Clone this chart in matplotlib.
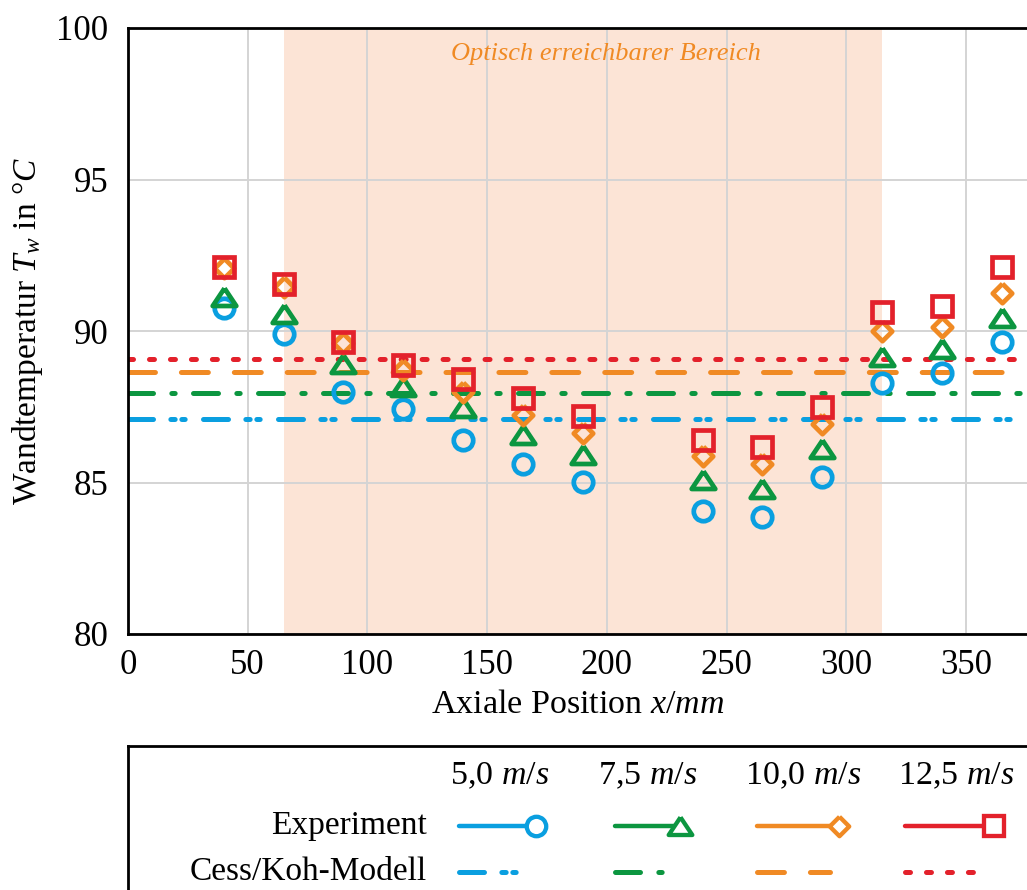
import numpy as np
import matplotlib
matplotlib.use('Agg')
import matplotlib.pyplot as plt

plt.rcParams['font.family'] = ['Liberation Serif', 'DejaVu Serif']
plt.rcParams['mathtext.fontset'] = 'custom'
plt.rcParams['mathtext.rm'] = 'Liberation Serif'
plt.rcParams['mathtext.it'] = 'Liberation Serif:italic'
plt.rcParams['lines.scale_dashes'] = False

# data
x_pos = [40, 65, 90, 115, 140, 165, 190, 240, 265, 290, 315, 340, 365]
t_50 = [90.75, 89.9, 87.98, 87.43, 86.4, 85.61, 85.03, 84.07, 83.85, 85.19, 88.3, 88.6, 89.65]
t_75 = [91.13, 90.56, 88.9, 88.14, 87.46, 86.57, 85.9, 85.08, 84.8, 86.1, 89.15, 89.4, 90.42]
t_100 = [92.08, 91.46, 89.6, 88.72, 88.0, 87.23, 86.62, 85.87, 85.61, 86.93, 90.01, 90.14, 91.26]
t_125 = [92.12, 91.54, 89.64, 88.88, 88.41, 87.78, 87.19, 86.4, 86.16, 87.5, 90.64, 90.82, 92.12]
cess_koh = [87.1, 87.94, 88.66, 89.07]
speeds = ['5,0 $m/s$', '7,5 $m/s$', '10,0 $m/s$', '12,5 $m/s$']
optical_range = (65, 315)

colors = ['#0A9FE0', '#0C9640', '#F08A24', '#E3212B']
tri = [(0, 0.78), (-1, -0.72), (1, -0.72), (0, 0.78)]
dia = [(0, 1), (1, 0), (0, -1), (-1, 0), (0, 1)]
markers = ['o', tri, dia, 's']
msizes = [14, 17, 14, 14]
dashes = [(18, 12.5, 3.1, 4.8, 2.4, 13.2), (18, 13.2, 2.4, 13.2), (19.4, 18.7), (3.6, 11.5)]
series = [t_50, t_75, t_100, t_125]

fig = plt.figure(figsize=(10.27, 8.9), dpi=100)
ax = fig.add_axes([128/1027, 256/890, 1-128/1027, 606/890])

ax.axvspan(*optical_range, color='#FCE4D6', zorder=0.1, lw=0)
ax.text(199.5, 99.14, 'Optisch erreichbarer Bereich', color='#F08A24',
        fontsize=19, style='italic', ha='center', va='center')

xmax = 375.5
for c, val, d in zip(colors, cess_koh, dashes):
    ax.plot([0, xmax], [val, val], color=c, lw=3.6, dashes=d,
            dash_capstyle='round', zorder=2)

for c, m, ms, t in zip(colors, markers, msizes, series):
    ax.plot(x_pos, t, ls='none', marker=m, ms=ms, mfc='none', mec=c,
            mew=3.4, zorder=3)

ax.set_xlim(0, xmax)
ax.set_ylim(80, 100)
ax.set_xticks(np.arange(0, 351, 50))
ax.set_yticks(np.arange(80, 101, 5))
ax.grid(True, color='#D4D4D4', lw=1.4)
ax.set_axisbelow(True)
ax.tick_params(length=0, labelsize=25)
ax.tick_params(axis='y', pad=14)
ax.tick_params(axis='x', pad=11)
for s in ['left', 'top', 'bottom']:
    ax.spines[s].set_linewidth(2)
    ax.spines[s].set_color('black')
ax.spines['right'].set_visible(False)
ax.set_xlabel('Axiale Position $x/mm$', fontsize=24.5, labelpad=5)
ax.set_ylabel('Wandtemperatur $T_w$ in °$C$', fontsize=24, labelpad=8)

# legend table
lg = fig.add_axes([128/1027, 0, 1-128/1027, 144/890])
lg.set_xlim(128, 1027)
lg.set_ylim(890, 746)
lg.set_xticks([])
lg.set_yticks([])
for s in ['right', 'bottom']:
    lg.spines[s].set_visible(False)
for s in ['left', 'top']:
    lg.spines[s].set_linewidth(2)

hdr_x = [500, 648, 803, 956]
line_start = [459, 615, 757, 905]
mark_end = [536, 680, 839, 994]
cess_end = [521, 667, 830, 977]
lg.text(427, 826, 'Experiment', fontsize=24, ha='right', va='center')
lg.text(427, 872, 'Cess/Koh-Modell', fontsize=24, ha='right', va='center')
for i in range(4):
    lg.text(hdr_x[i], 776, speeds[i], fontsize=24.5, ha='center', va='center')
    lg.plot([line_start[i], mark_end[i]], [826, 826], color=colors[i], lw=3.2,
            solid_capstyle='round')
    lg.plot([mark_end[i]], [826], marker=markers[i], ms=msizes[i], mfc='white',
            mec=colors[i], mew=3.1, ls='none')
    lg.plot([line_start[i], cess_end[i]], [872, 872], color=colors[i], lw=3.6,
            dashes=dashes[i], dash_capstyle='round')

fig.savefig('out.png', dpi=100)
